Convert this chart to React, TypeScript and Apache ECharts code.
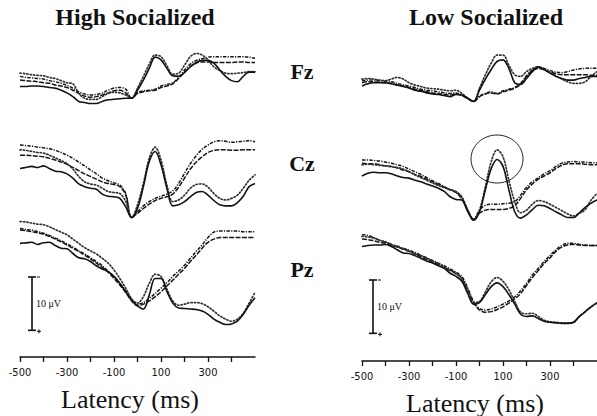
import React, { useEffect, useRef } from "react";
import * as echarts from "echarts";

// Sample times (ms)
const TIMES = [
  -500, -475, -450, -425, -400, -375, -350, -325, -300, -275, -250, -225, -200, -175,
  -150, -125, -100, -75, -50, -25, 0, 25, 50, 75, 100, 125, 150, 175, 200, 225, 250,
  275, 300, 325, 350, 375, 400, 425, 450, 475, 500,
];

// Axis ticks
const TICK_VALUES = [-500, -400, -300, -200, -100, 0, 100, 200, 300, 400];
const TICK_LABELS = [-500, -300, -100, 100, 300];

// ---------- High Socialized (µV, positive plotted downward) ----------
const HS_FZ_SOLID = [0.6,0.6,0.5,0.5,0.6,0.8,0.9,1.3,1.8,2.5,3.4,3.6,3.8,3.8,3.4,3.1,3.0,2.9,2.8,2.8,1.3,-0.6,-2.8,-4.9,-4.4,-2.8,-1.4,-1.3,-2.0,-3.1,-3.9,-4.3,-4.3,-3.8,-2.5,-1.3,-0.5,-0.3,-1.3,-2.1,-2.1];
const HS_FZ_DOTTED = [-1.9,-1.8,-1.6,-1.5,-1.4,-1.1,-0.9,-0.5,-0.1,0.1,1.9,2.8,3.0,3.0,2.5,1.9,1.7,1.8,2.2,2.8,0.9,-1.3,-3.6,-5.3,-5.0,-3.3,-1.7,-1.9,-3.4,-5.0,-5.6,-5.3,-4.4,-3.1,-2.4,-1.9,-1.8,-1.9,-2.0,-2.2,-2.2];
const HS_FZ_DASHDOT = [-1.3,-1.1,-1.0,-0.9,-0.8,-0.5,-0.3,0,0.4,0.9,1.6,2.0,2.2,2.1,1.8,1.3,0.9,0.8,1.1,2.8,1.8,1.4,1.3,1.1,0.5,0.2,-0.1,-1.1,-2.5,-3.6,-4.3,-4.6,-4.9,-5.0,-5.0,-5.0,-5.0,-5.0,-5.0,-4.9,-4.7];
const HS_FZ_DASHED = [-0.6,-0.5,-0.4,-0.3,-0.1,0,0.3,0.5,0.8,1.3,1.9,2.4,2.6,2.5,2.2,1.8,1.4,1.3,1.8,2.8,1.9,1.6,1.4,1.3,0.8,0.5,0.1,-0.9,-2.1,-3.1,-3.8,-4.0,-4.0,-3.9,-3.9,-3.9,-3.9,-4.0,-4.0,-3.9,-3.9];

const HS_CZ_SOLID = [-0.9,-1.1,-1.3,-1.1,-1.4,-0.9,-0.4,-0.3,0.1,0.9,2.0,2.5,2.8,3.0,3.9,4.3,4.4,4.7,6.3,8.3,6.6,2.5,-2.2,-4.1,-1.6,2.8,6.1,5.9,5.3,4.4,3.6,3.4,4.1,5.1,5.9,6.1,6.1,5.5,4.3,2.5,1.9];
const HS_CZ_DOTTED = [-4.4,-4.3,-4.1,-3.9,-3.8,-3.4,-2.9,-2.4,-1.8,-0.8,0.6,1.6,2.0,2.2,2.8,3.4,3.6,3.8,5.3,8.3,5.9,1.9,-2.8,-4.9,-2.5,2.2,5.3,5.0,4.1,2.8,2.1,2.0,2.6,3.8,4.7,5.0,4.7,4.1,2.8,1.3,0.3];
const HS_CZ_DASHDOT = [-5.3,-5.2,-5.1,-4.9,-4.8,-4.6,-4.3,-3.9,-3.4,-2.8,-2.1,-1.4,-0.6,0.1,0.9,1.4,1.8,2.2,3.8,8.3,7.2,6.1,5.3,4.7,4.3,3.9,3.3,1.9,0,-1.8,-3.3,-4.5,-5.3,-5.9,-6.1,-6.0,-5.8,-5.9,-6.0,-6.1,-5.9];
const HS_CZ_DASHED = [-3.4,-3.4,-3.3,-3.2,-3.1,-2.8,-2.5,-2.1,-1.7,-1.1,-0.5,0.1,0.6,1.1,1.6,1.9,2.1,2.5,4.1,8.3,7.5,6.6,5.8,5.1,4.7,4.4,3.9,2.6,0.9,-0.8,-2.1,-3.1,-3.9,-4.3,-4.4,-4.4,-4.3,-4.3,-4.4,-4.4,-4.4];

const HS_PZ_SOLID = [-2.8,-2.9,-3.0,-2.6,-2.9,-3.0,-2.4,-1.9,-1.8,-0.9,-0.1,0.1,0.6,1.4,2.0,2.5,3.4,4.7,6.3,7.8,8.9,9.5,6.9,3.8,3.8,6.2,8.4,9.3,9.4,9.5,9.6,9.9,10.5,11.4,12.0,12.4,12.3,11.8,10.5,8.8,7.4];
const HS_PZ_DOTTED = [-6.9,-6.8,-6.6,-6.4,-6.3,-5.9,-5.4,-4.9,-4.4,-3.6,-2.8,-2.0,-1.4,-0.8,0,0.9,2.2,3.8,5.6,7.6,8.4,7.2,4.7,3.0,3.4,5.8,8.0,8.8,8.6,8.3,8.3,8.5,9.1,9.9,10.8,11.4,11.8,11.4,10.3,8.4,6.4];
const HS_PZ_DASHDOT = [-5.6,-5.4,-5.3,-5.0,-4.7,-4.3,-3.8,-3.3,-2.7,-2.1,-1.4,-0.8,-0.1,0.6,1.4,2.4,3.4,4.7,6.1,7.8,8.6,8.3,7.5,6.6,5.6,4.6,3.4,2.4,1.3,0,-1.3,-2.5,-3.9,-4.9,-5.1,-5.1,-5.1,-5.1,-5.0,-5.0,-5.0];
const HS_PZ_DASHED = [-5.3,-5.2,-5.0,-4.8,-4.5,-4.1,-3.6,-3.1,-2.5,-1.9,-1.3,-0.6,0.1,0.9,1.7,2.6,3.8,5.0,6.4,8.0,8.9,8.6,8.0,7.2,6.3,5.2,4.1,3.0,1.9,0.6,-0.6,-1.9,-3.0,-3.6,-3.9,-3.9,-3.9,-3.9,-3.9,-3.9,-3.9];

// ---------- Low Socialized ----------
const LS_FZ_SOLID = [0.5,0.1,-0.1,-0.1,-0.1,0.1,0.3,0.6,0.9,1.3,1.5,1.8,2.0,2.1,2.3,2.5,2.1,2.2,2.8,3.4,1.3,-0.8,-2.6,-4.1,-4.4,-2.8,-0.1,0.2,-0.9,-2.2,-3.0,-2.6,-1.9,-1.3,-0.9,-0.6,-0.6,-0.9,-1.1,-1.3,-1.3];
const LS_FZ_DOTTED = [-0.8,-0.9,-0.8,-0.6,-0.5,-0.8,-1.1,-0.8,-0.1,0.3,0.6,0.9,1.0,1.1,1.3,1.4,1.3,1.9,2.8,3.4,0.9,-1.6,-3.8,-5.3,-5.3,-3.4,-1.6,-1.3,-2.2,-2.8,-3.1,-2.6,-2.0,-1.4,-0.8,-0.3,0,0,-0.3,-1.3,-2.2];
const LS_FZ_DASHDOT = [-0.5,-0.6,-0.6,-0.5,-0.4,-0.3,0,0.3,0.5,0.8,1.1,1.3,1.4,1.6,1.8,1.9,1.8,2.2,2.8,3.4,2.4,1.9,1.6,1.9,1.4,1.1,0.8,0,-1.4,-2.5,-3.1,-2.8,-2.4,-2.1,-2.0,-2.2,-2.5,-2.7,-2.8,-2.8,-2.8];
const LS_FZ_DASHED = [-0.1,-0.3,-0.3,-0.2,-0.1,0,0.3,0.5,0.8,1.1,1.3,1.6,1.8,1.9,2.1,2.2,2.0,2.3,2.9,3.4,2.5,2.0,1.8,2.0,1.6,1.3,0.9,0.2,-1.3,-2.4,-2.8,-2.5,-2.1,-1.8,-1.6,-1.6,-1.6,-1.6,-1.6,-1.5,-1.5];

const LS_CZ_SOLID = [0.5,0,-0.2,-0.1,-0.1,0.1,0.5,0.8,0.9,1.3,1.6,2.0,2.4,2.8,3.4,4.4,4.9,5.0,7.2,8.8,7.2,3.1,-0.9,-2.6,-1.3,3.1,7.2,8.4,7.8,6.8,6.0,6.1,6.6,7.2,7.8,8.3,8.3,7.4,6.4,5.6,5.0];
const LS_CZ_DOTTED = [-1.6,-1.7,-1.6,-1.5,-1.4,-1.2,-1.1,-0.8,-0.3,0.3,0.8,1.3,1.8,2.3,2.7,3.1,3.4,4.4,6.9,8.6,6.9,2.5,-2.2,-4.4,-3.1,1.3,5.3,7.4,6.9,5.8,5.1,5.3,5.8,6.4,7.0,7.6,8.0,7.5,6.8,5.0,3.8];
const LS_CZ_DASHDOT = [-2.5,-2.5,-2.4,-2.3,-2.1,-1.9,-1.6,-1.3,-0.8,-0.3,0.2,0.8,1.4,1.9,2.5,3.0,3.5,4.7,6.9,8.6,6.9,6.0,5.8,5.8,5.7,5.6,5.3,4.1,2.6,1.6,0.8,0.1,-0.5,-1.3,-1.9,-2.1,-2.2,-2.1,-2.1,-2.0,-2.0];
const LS_CZ_DASHED = [-1.9,-1.8,-1.8,-1.6,-1.4,-1.3,-1.0,-0.6,-0.3,0.2,0.6,1.1,1.6,2.1,2.6,3.1,3.6,4.8,7.0,8.8,7.5,6.9,6.8,6.8,6.8,6.6,6.1,4.7,3.1,2.0,1.1,0.5,-0.1,-0.9,-1.5,-1.8,-1.8,-1.8,-1.7,-1.6,-1.6];

const LS_PZ_SOLID = [-2.2,-2.4,-2.5,-2.5,-2.6,-2.2,-1.6,-1.0,-0.9,-0.5,0,0.5,0.9,1.4,1.9,2.8,3.4,4.3,6.6,8.6,8.3,6.8,5.3,4.6,5.3,6.8,8.6,10.5,10.9,10.8,11.3,11.8,12.0,12.1,12.2,12.2,12.0,10.9,10.0,9.1,8.3];
const LS_PZ_DOTTED = [-4.1,-4.0,-3.8,-3.4,-3.1,-2.6,-2.2,-1.8,-1.4,-0.9,-0.5,0,0.5,1.0,1.6,2.2,2.8,3.8,5.9,8.3,8.1,6.3,4.4,3.6,4.3,5.9,8.1,10.1,10.4,10.3,10.9,11.6,11.9,12.0,12.1,12.1,12.0,10.9,10.0,9.1,8.4];
const LS_PZ_DASHDOT = [-4.4,-4.3,-3.9,-3.4,-3.0,-2.6,-2.3,-1.9,-1.5,-1.1,-0.6,-0.1,0.4,0.9,1.4,2.0,2.6,3.4,5.6,8.1,9.4,9.7,9.5,9.1,8.6,8.0,7.2,6.1,4.7,3.1,1.9,0.6,-0.5,-1.6,-2.4,-2.8,-2.8,-2.6,-2.5,-2.4,-2.4];
const LS_PZ_DASHED = [-3.6,-3.5,-3.3,-3.0,-2.8,-2.4,-2.1,-1.7,-1.3,-0.8,-0.3,0.2,0.7,1.2,1.8,2.3,2.9,3.8,5.9,8.3,9.7,10.1,10.0,9.6,9.1,8.4,7.6,6.6,5.1,3.6,2.3,1.0,-0.1,-1.3,-2.1,-2.5,-2.6,-2.5,-2.4,-2.4,-2.4];

const PANEL_TITLES = ["High Socialized", "Low Socialized"];
const ELECTRODES = ["Fz", "Cz", "Pz"];
const SCALE_UV = 10;
const AXIS_NAME = "Latency (ms)";

const PANEL_DATA = [
  [
    [HS_FZ_SOLID, HS_FZ_DOTTED, HS_FZ_DASHDOT, HS_FZ_DASHED],
    [HS_CZ_SOLID, HS_CZ_DOTTED, HS_CZ_DASHDOT, HS_CZ_DASHED],
    [HS_PZ_SOLID, HS_PZ_DOTTED, HS_PZ_DASHDOT, HS_PZ_DASHED],
  ],
  [
    [LS_FZ_SOLID, LS_FZ_DOTTED, LS_FZ_DASHDOT, LS_FZ_DASHED],
    [LS_CZ_SOLID, LS_CZ_DOTTED, LS_CZ_DASHDOT, LS_CZ_DASHED],
    [LS_PZ_SOLID, LS_PZ_DOTTED, LS_PZ_DASHDOT, LS_PZ_DASHED],
  ],
];

// ---------- layout ----------
const PX_PER_UV = 16 / 3;
const Y_RANGE = 14;
const PANEL_LEFT = [20, 362];
const PLOT_WIDTH = 235;
const BASELINE_Y = [83.3, 173.3, 258.3];
const AXIS_Y = [357, 361];

const LINE_STYLES = [
  { type: "solid", width: 1.6, color: "#111" },
  { type: [1.3, 2.1], width: 1.7, color: "#333", cap: "round" },
  { type: [3.5, 1.3, 1.2, 1.3], width: 1.5, color: "#151515" },
  { type: [5, 1.4], width: 1.5, color: "#151515" },
];

const SERIF = '"Liberation Serif", "Times New Roman", serif';

function buildOption() {
  const grid: any[] = [];
  const xAxis: any[] = [];
  const yAxis: any[] = [];
  const series: any[] = [];
  const graphic: any[] = [];

  PANEL_DATA.forEach((panel, p) => {
    panel.forEach((lines, e) => {
      const gi = grid.length;
      grid.push({
        left: PANEL_LEFT[p],
        width: PLOT_WIDTH,
        top: BASELINE_Y[e] - Y_RANGE * PX_PER_UV,
        height: 2 * Y_RANGE * PX_PER_UV,
        containLabel: false,
        outerBoundsMode: "none",
      });
      xAxis.push({ type: "value", gridIndex: gi, min: -500, max: 500, show: false });
      yAxis.push({ type: "value", gridIndex: gi, min: -Y_RANGE, max: Y_RANGE, inverse: true, show: false });
      lines.forEach((vals, s) => {
        series.push({
          type: "line",
          xAxisIndex: gi,
          yAxisIndex: gi,
          data: TIMES.map((t, i) => [t, vals[i]]),
          showSymbol: false,
          symbol: "none",
          smooth: 0.35,
          silent: true,
          clip: false,
          lineStyle: LINE_STYLES[s],
          z: 10 - s,
        });
      });
    });
    // axis grid
    const ai = grid.length;
    grid.push({
      left: PANEL_LEFT[p],
      width: PLOT_WIDTH,
      top: AXIS_Y[p] - 50,
      height: 50,
      containLabel: false,
      outerBoundsMode: "none",
    });
    xAxis.push({
      type: "value",
      gridIndex: ai,
      min: -500,
      max: 500,
      splitLine: { show: false },
      axisLine: { show: true, onZero: false, lineStyle: { color: "#111", width: 1.5 } },
      axisTick: { show: true, length: 5, customValues: TICK_VALUES, lineStyle: { color: "#111", width: 1.3 } },
      axisLabel: {
        show: true,
        customValues: TICK_LABELS,
        margin: 10,
        fontSize: 11,
        color: "#111",
        fontFamily: '"Liberation Sans Narrow", "DejaVu Sans Condensed", "Liberation Sans", sans-serif',
        formatter: (v: number) => String(v),
      },
    });
    yAxis.push({ type: "value", gridIndex: ai, min: 0, max: 1, show: false });

    // panel title
    graphic.push({
      type: "text",
      x: p === 0 ? 135 : 486,
      y: 17,
      style: {
        text: PANEL_TITLES[p],
        font: `bold 24px ${SERIF}`,
        fill: "#111",
        align: "center",
        verticalAlign: "middle",
        textAlign: "center",
        textVerticalAlign: "middle",
      },
    });
    // axis name
    graphic.push({
      type: "text",
      x: p === 0 ? 130 : 475,
      y: AXIS_Y[p] + 42,
      style: {
        text: AXIS_NAME,
        font: `26px ${SERIF}`,
        fill: "#111",
        align: "center",
        verticalAlign: "middle",
        textAlign: "center",
        textVerticalAlign: "middle",
      },
    });

    // scale bar
    const sx = p === 0 ? 32 : 373;
    const sy = p === 0 ? 277 : 280;
    const len = SCALE_UV * PX_PER_UV;
    const barStyle = { stroke: "#111", lineWidth: 1.6 };
    graphic.push({ type: "line", shape: { x1: sx, y1: sy, x2: sx, y2: sy + len }, style: barStyle });
    graphic.push({ type: "line", shape: { x1: sx - 4, y1: sy, x2: sx + 4, y2: sy }, style: barStyle });
    graphic.push({ type: "line", shape: { x1: sx - 4, y1: sy + len, x2: sx + 4, y2: sy + len }, style: barStyle });
    graphic.push({ type: "line", shape: { x1: sx + 5, y1: sy, x2: sx + 8, y2: sy }, style: { stroke: "#111", lineWidth: 1 } });
    graphic.push({ type: "line", shape: { x1: sx + 5, y1: sy + len + 1, x2: sx + 9, y2: sy + len + 1 }, style: { stroke: "#111", lineWidth: 1 } });
    graphic.push({ type: "line", shape: { x1: sx + 7, y1: sy + len - 1, x2: sx + 7, y2: sy + len + 3 }, style: { stroke: "#111", lineWidth: 1 } });
    graphic.push({
      type: "text",
      x: sx + 4,
      y: sy + len / 2,
      style: { text: `${SCALE_UV} μV`, font: `10px ${SERIF}`, fill: "#111", align: "left", verticalAlign: "middle", textAlign: "left", textVerticalAlign: "middle" },
    });
  });

  // electrode labels
  const labelY = [71, 163, 269];
  ELECTRODES.forEach((name, e) => {
    graphic.push({
      type: "text",
      x: 302,
      y: labelY[e],
      style: {
        text: name,
        font: `bold 22px ${SERIF}`,
        fill: "#111",
        align: "center",
        verticalAlign: "middle",
        textAlign: "center",
        textVerticalAlign: "middle",
      },
    });
  });

  // annotation circle around the Low Socialized Cz peak
  graphic.push({
    type: "ellipse",
    shape: { cx: 497, cy: 159, rx: 26, ry: 24 },
    style: { fill: "none", stroke: "#222", lineWidth: 1 },
  });

  return {
    animation: false,
    backgroundColor: "#fff",
    grid,
    xAxis,
    yAxis,
    series,
    graphic,
  };
}

export default function App() {
  const ref = useRef<HTMLDivElement>(null);
  useEffect(() => {
    if (!ref.current) return;
    const chart = echarts.init(ref.current, undefined, { renderer: "svg" });
    chart.setOption(buildOption() as any);
    return () => chart.dispose();
  }, []);
  return (
    <div
      ref={ref}
      style={{ position: "absolute", left: 0, top: 0, width: 597, height: 416, background: "#fff" }}
    />
  );
}
